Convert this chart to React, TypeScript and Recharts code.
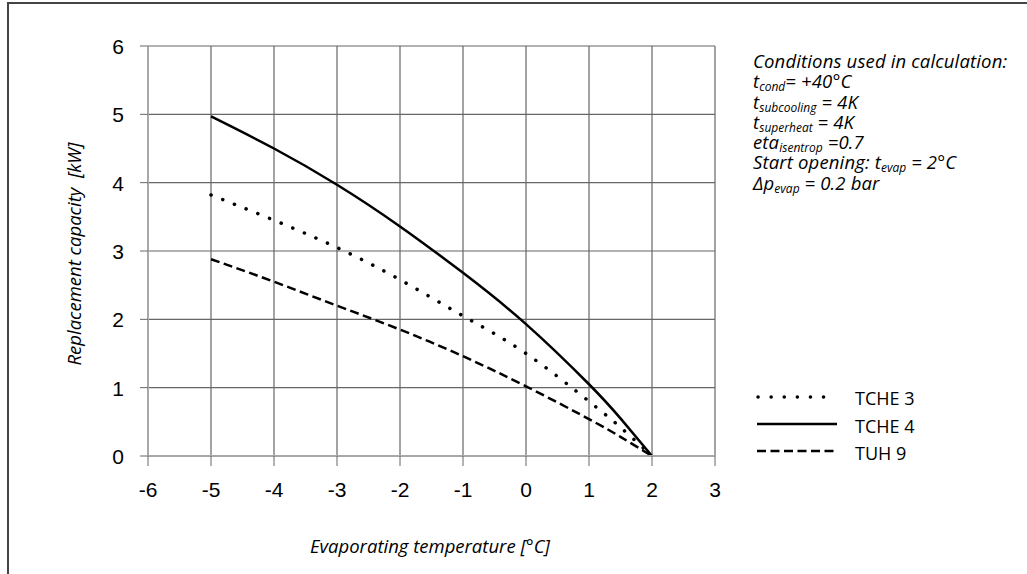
import React from 'react';
import { LineChart, Line, XAxis, YAxis, CartesianGrid } from 'recharts';

// evaporating temperature [°C]
const temps = [-5, -4, -3, -2, -1, 0, 1, 1.5, 2];
// replacement capacity [kW]
const tche3 = [3.82, 3.45, 3.05, 2.58, 2.05, 1.5, 0.8, 0.42, 0];
const tche4 = [4.97, 4.5, 3.97, 3.36, 2.68, 1.93, 1.05, 0.55, 0];
const tuh9 = [2.88, 2.55, 2.2, 1.85, 1.46, 1.02, 0.54, 0.28, 0];

const xTicks = [-6, -5, -4, -3, -2, -1, 0, 1, 2, 3];
const yTicks = [0, 1, 2, 3, 4, 5, 6];

const seriesNames = ['TCHE 3', 'TCHE 4', 'TUH 9'];

const data = temps.map((t, i) => ({ t, tche3: tche3[i], tche4: tche4[i], tuh9: tuh9[i] }));

const italicFont = '"Open Sans", sans-serif';
const tickFont = '"Liberation Sans", Arial, sans-serif';

const Sub = ({ children }: { children: React.ReactNode }) => (
  <span style={{ fontSize: 12, position: 'relative', top: 3, letterSpacing: 0, lineHeight: 0 }}>{children}</span>
);

const XTick = (props: any) => {
  const { x, y, payload } = props;
  return (
    <text x={x} y={y + 29} textAnchor="middle" fontFamily={tickFont} fontSize={21} fill="#000">
      {payload.value}
    </text>
  );
};

const YTick = (props: any) => {
  const { x, y, payload } = props;
  return (
    <text x={x - 14} y={y + 8} textAnchor="end" fontFamily={tickFont} fontSize={21} fill="#000">
      {payload.value}
    </text>
  );
};

export default function App() {
  const lineH = 20.3;
  const row = { height: lineH, lineHeight: `${lineH}px` };
  return (
    <div style={{ position: 'absolute', left: 0, top: 0, width: 1027, height: 574, background: '#fff' }}>
      {/* frame */}
      <div
        style={{
          position: 'absolute',
          left: 7,
          top: 2,
          right: 0,
          bottom: 0,
          borderTop: '2px solid #444',
          borderLeft: '2px solid #444',
        }}
      />
      <LineChart
        width={1027}
        height={574}
        data={data}
        margin={{ top: 46, right: 312, left: 100, bottom: 88 }}
        style={{ position: 'absolute', left: 0, top: 0 }}
      >
        <CartesianGrid stroke="#666" strokeWidth={1.2} horizontalValues={yTicks} verticalValues={xTicks} />
        <XAxis
          type="number"
          dataKey="t"
          domain={[-6, 3]}
          ticks={xTicks}
          interval={0}
          height={30}
          axisLine={{ stroke: '#a8a8a8', strokeWidth: 2 }}
          tickLine={{ stroke: '#666' }}
          tickSize={10}
          tick={<XTick />}
          label={() => (
            <text
              x={430}
              y={553}
              textAnchor="middle"
              fontFamily={italicFont}
              fontStyle="italic"
              fontSize={18.5}
              fill="#000"
            >
              Evaporating temperature [°C]
            </text>
          )}
        />
        <YAxis
          type="number"
          domain={[0, 6]}
          ticks={yTicks}
          interval={0}
          width={48}
          axisLine={{ stroke: '#a8a8a8', strokeWidth: 2 }}
          tickLine={{ stroke: '#666' }}
          tickSize={8}
          tick={<YTick />}
          label={() => (
            <text
              x={81}
              y={254}
              transform="rotate(-90 81 254)"
              textAnchor="middle"
              fontFamily={italicFont}
              fontStyle="italic"
              fontSize={18.5}
              fill="#000"
              style={{ whiteSpace: 'pre' }}
            >
              Replacement capacity  [kW]
            </text>
          )}
        />
        <Line
          type="natural"
          dataKey="tche3"
          name={seriesNames[0]}
          stroke="#000"
          strokeWidth={3.5}
          strokeDasharray="0.1 12.5"
          strokeLinecap="round"
          dot={false}
          isAnimationActive={false}
        />
        <Line
          type="natural"
          dataKey="tche4"
          name={seriesNames[1]}
          stroke="#000"
          strokeWidth={2.5}
          dot={false}
          isAnimationActive={false}
        />
        <Line
          type="natural"
          dataKey="tuh9"
          name={seriesNames[2]}
          stroke="#000"
          strokeWidth={2.5}
          strokeDasharray="9 4.5"
          dot={false}
          isAnimationActive={false}
        />
      </LineChart>

      {/* conditions note */}
      <div
        style={{
          position: 'absolute',
          left: 753,
          top: 51,
          fontFamily: italicFont,
          fontStyle: 'italic',
          fontSize: 18.5,
          letterSpacing: 0.15,
          color: '#000',
          whiteSpace: 'nowrap',
        }}
      >
        <div style={row}>Conditions used in calculation:</div>
        <div style={row}>
          t<Sub>cond</Sub>= +40°C
        </div>
        <div style={row}>
          t<Sub>subcooling</Sub> = 4K
        </div>
        <div style={row}>
          t<Sub>superheat</Sub> = 4K
        </div>
        <div style={row}>
          eta<Sub>isentrop</Sub> =0.7
        </div>
        <div style={row}>
          Start opening: t<Sub>evap</Sub> = 2°C
        </div>
        <div style={row}>
          Δp<Sub>evap</Sub> = 0.2 bar
        </div>
      </div>

      {/* legend */}
      <svg style={{ position: 'absolute', left: 0, top: 0 }} width={1027} height={574}>
        <line x1={758} y1={397} x2={836} y2={397} stroke="#000" strokeWidth={3.5} strokeDasharray="0.1 13" strokeLinecap="round" />
        <line x1={757} y1={424} x2={837} y2={424} stroke="#000" strokeWidth={2.5} />
        <line x1={757} y1={451} x2={837} y2={451} stroke="#000" strokeWidth={2.5} strokeDasharray="9 4.5" />
        {seriesNames.map((n, i) => (
          <text key={n} x={855} y={405 + i * 27.5} fontFamily={italicFont} fontSize={18} fill="#000">
            {n}
          </text>
        ))}
      </svg>
    </div>
  );
}
